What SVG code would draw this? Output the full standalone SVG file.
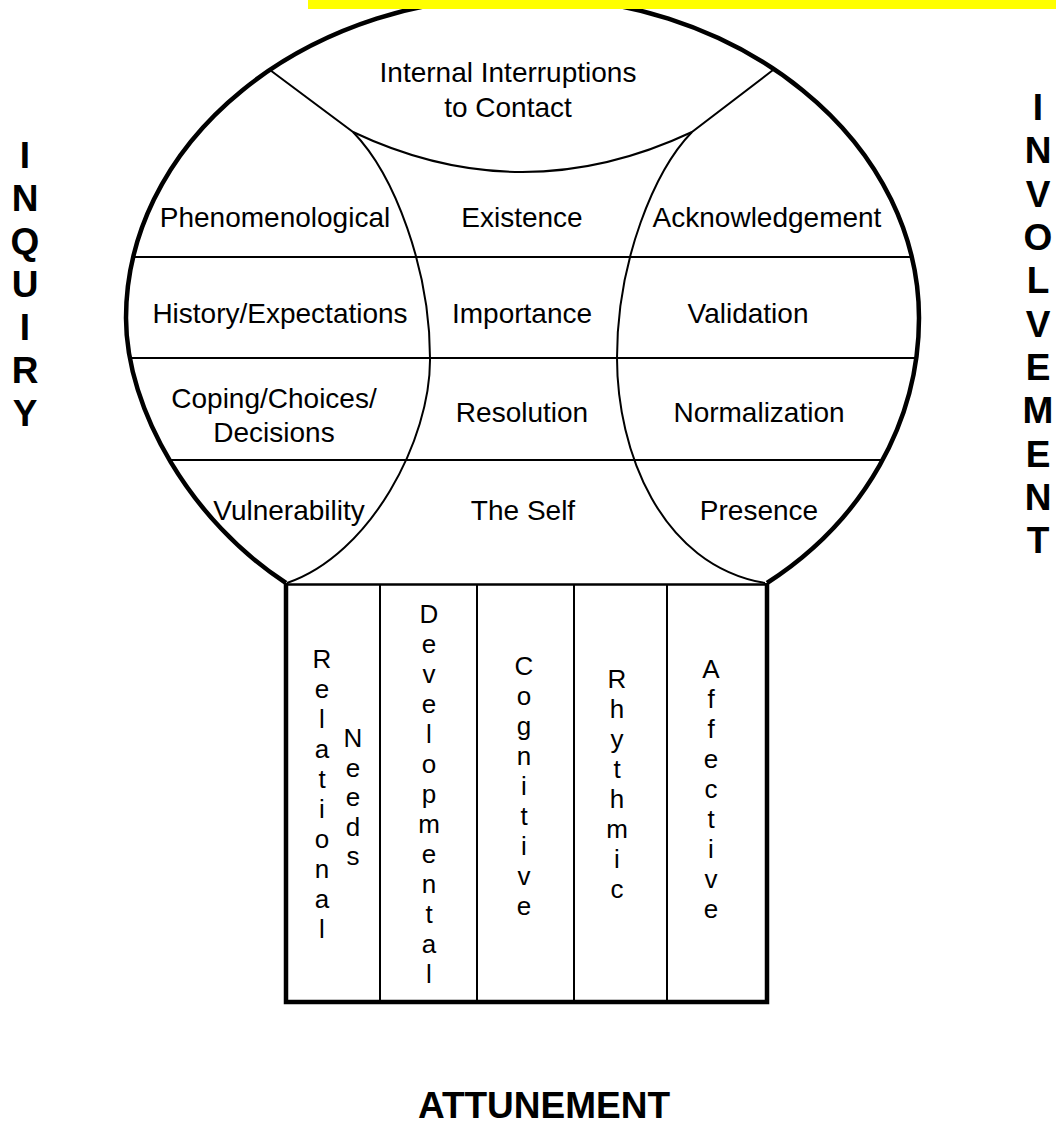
<svg xmlns="http://www.w3.org/2000/svg" width="1056" height="1124" viewBox="0 0 1056 1124">
<style>
.thick{fill:none;stroke:#000;stroke-width:4.5;stroke-linejoin:miter}
.thin{fill:none;stroke:#000;stroke-width:2}
.lbl{font-family:"Liberation Sans",Arial,sans-serif;font-size:28px;fill:#000;text-anchor:middle}
.vl{font-family:"Liberation Sans",Arial,sans-serif;font-size:26px;fill:#000;text-anchor:middle}
.side{font-family:"Liberation Sans",Arial,sans-serif;font-size:37px;font-weight:bold;fill:#000;text-anchor:middle}
</style>
<rect width="1056" height="1124" fill="#fff"/>
<g id="connectors">
<path class="thin" d="M270,70 L353,132 C395,175 430,270 430,358 C431,440 370,555 287,583"/>
<path class="thin" d="M773,70 L692,132 C655,170 617,260 617,358 C617,450 660,565 765,583"/>
<path class="thin" d="M353,132 Q522,212 692,132"/>
<line class="thin" x1="133" y1="257" x2="912" y2="257"/>
<line class="thin" x1="130" y1="358" x2="916" y2="358"/>
<line class="thin" x1="171" y1="460" x2="882" y2="460"/>
<line class="thin" x1="380" y1="585" x2="380" y2="1002"/>
<line class="thin" x1="477" y1="585" x2="477" y2="1002"/>
<line class="thin" x1="574" y1="585" x2="574" y2="1002"/>
<line class="thin" x1="667" y1="585" x2="667" y2="1002"/>
</g>
<g id="balloon">
<path class="thick" d="M286,583 C192,522 126,410 126,318 A396.5,322 0 0 1 919,318 C919,420 865,520 767,583"/>
</g>
<g id="box">
<line x1="286" y1="584.5" x2="767" y2="584.5" stroke="#000" stroke-width="2.5"/>
<path class="thick" d="M286,583 L286,1002 L767,1002 L767,583" stroke-width="5"/>
</g>
<rect id="highlight" x="308" y="0" width="748" height="9" fill="#ffff00"/>
<g id="top-node"><text class="lbl" x="508" y="82">Internal Interruptions</text><text class="lbl" x="508" y="117">to Contact</text></g>
<g id="inquiry-cells">
<text class="lbl" x="275" y="227">Phenomenological</text>
<text class="lbl" x="280" y="323">History/Expectations</text>
<text class="lbl" x="274" y="408">Coping/Choices/</text>
<text class="lbl" x="274" y="442">Decisions</text>
<text class="lbl" x="289" y="520">Vulnerability</text>
</g>
<g id="center-cells">
<text class="lbl" x="522" y="227">Existence</text>
<text class="lbl" x="522" y="323">Importance</text>
<text class="lbl" x="522" y="422">Resolution</text>
<text class="lbl" x="523" y="520">The Self</text>
</g>
<g id="involvement-cells">
<text class="lbl" x="767" y="227">Acknowledgement</text>
<text class="lbl" x="748" y="323">Validation</text>
<text class="lbl" x="759" y="422">Normalization</text>
<text class="lbl" x="759" y="520">Presence</text>
</g>
<g id="col-relational"><text class="vl"><tspan x="322" y="668">R</tspan><tspan x="322" y="698">e</tspan><tspan x="322" y="728">l</tspan><tspan x="322" y="758">a</tspan><tspan x="322" y="788">t</tspan><tspan x="322" y="818">i</tspan><tspan x="322" y="848">o</tspan><tspan x="322" y="878">n</tspan><tspan x="322" y="908">a</tspan><tspan x="322" y="938">l</tspan></text>
<text class="vl"><tspan x="353" y="747">N</tspan><tspan x="353" y="777">e</tspan><tspan x="353" y="806">e</tspan><tspan x="353" y="836">d</tspan><tspan x="353" y="865">s</tspan></text></g>
<g id="col-developmental"><text class="vl"><tspan x="429" y="623">D</tspan><tspan x="429" y="653">e</tspan><tspan x="429" y="683">v</tspan><tspan x="429" y="713">e</tspan><tspan x="429" y="743">l</tspan><tspan x="429" y="773">o</tspan><tspan x="429" y="803">p</tspan><tspan x="429" y="833">m</tspan><tspan x="429" y="863">e</tspan><tspan x="429" y="893">n</tspan><tspan x="429" y="923">t</tspan><tspan x="429" y="953">a</tspan><tspan x="429" y="983">l</tspan></text></g>
<g id="col-cognitive"><text class="vl"><tspan x="524" y="675">C</tspan><tspan x="524" y="705">o</tspan><tspan x="524" y="735">g</tspan><tspan x="524" y="765">n</tspan><tspan x="524" y="795">i</tspan><tspan x="524" y="825">t</tspan><tspan x="524" y="855">i</tspan><tspan x="524" y="885">v</tspan><tspan x="524" y="915">e</tspan></text></g>
<g id="col-rhythmic"><text class="vl"><tspan x="617" y="688">R</tspan><tspan x="617" y="718">h</tspan><tspan x="617" y="748">y</tspan><tspan x="617" y="778">t</tspan><tspan x="617" y="808">h</tspan><tspan x="617" y="838">m</tspan><tspan x="617" y="868">i</tspan><tspan x="617" y="898">c</tspan></text></g>
<g id="col-affective"><text class="vl"><tspan x="711" y="678">A</tspan><tspan x="711" y="708">f</tspan><tspan x="711" y="738">f</tspan><tspan x="711" y="768">e</tspan><tspan x="711" y="798">c</tspan><tspan x="711" y="828">t</tspan><tspan x="711" y="858">i</tspan><tspan x="711" y="888">v</tspan><tspan x="711" y="918">e</tspan></text></g>
<g id="inquiry"><text class="side"><tspan x="25" y="168">I</tspan><tspan x="25" y="211">N</tspan><tspan x="25" y="254">Q</tspan><tspan x="25" y="297">U</tspan><tspan x="25" y="340">I</tspan><tspan x="25" y="383">R</tspan><tspan x="25" y="426">Y</tspan></text></g>
<g id="involvement"><text class="side"><tspan x="1038" y="120">I</tspan><tspan x="1038" y="163">N</tspan><tspan x="1038" y="207">V</tspan><tspan x="1038" y="250">O</tspan><tspan x="1038" y="293">L</tspan><tspan x="1038" y="337">V</tspan><tspan x="1038" y="380">E</tspan><tspan x="1038" y="423">M</tspan><tspan x="1038" y="467">E</tspan><tspan x="1038" y="510">N</tspan><tspan x="1038" y="553">T</tspan></text></g>
<g id="attunement"><text class="side" x="544" y="1118">ATTUNEMENT</text></g>
</svg>
